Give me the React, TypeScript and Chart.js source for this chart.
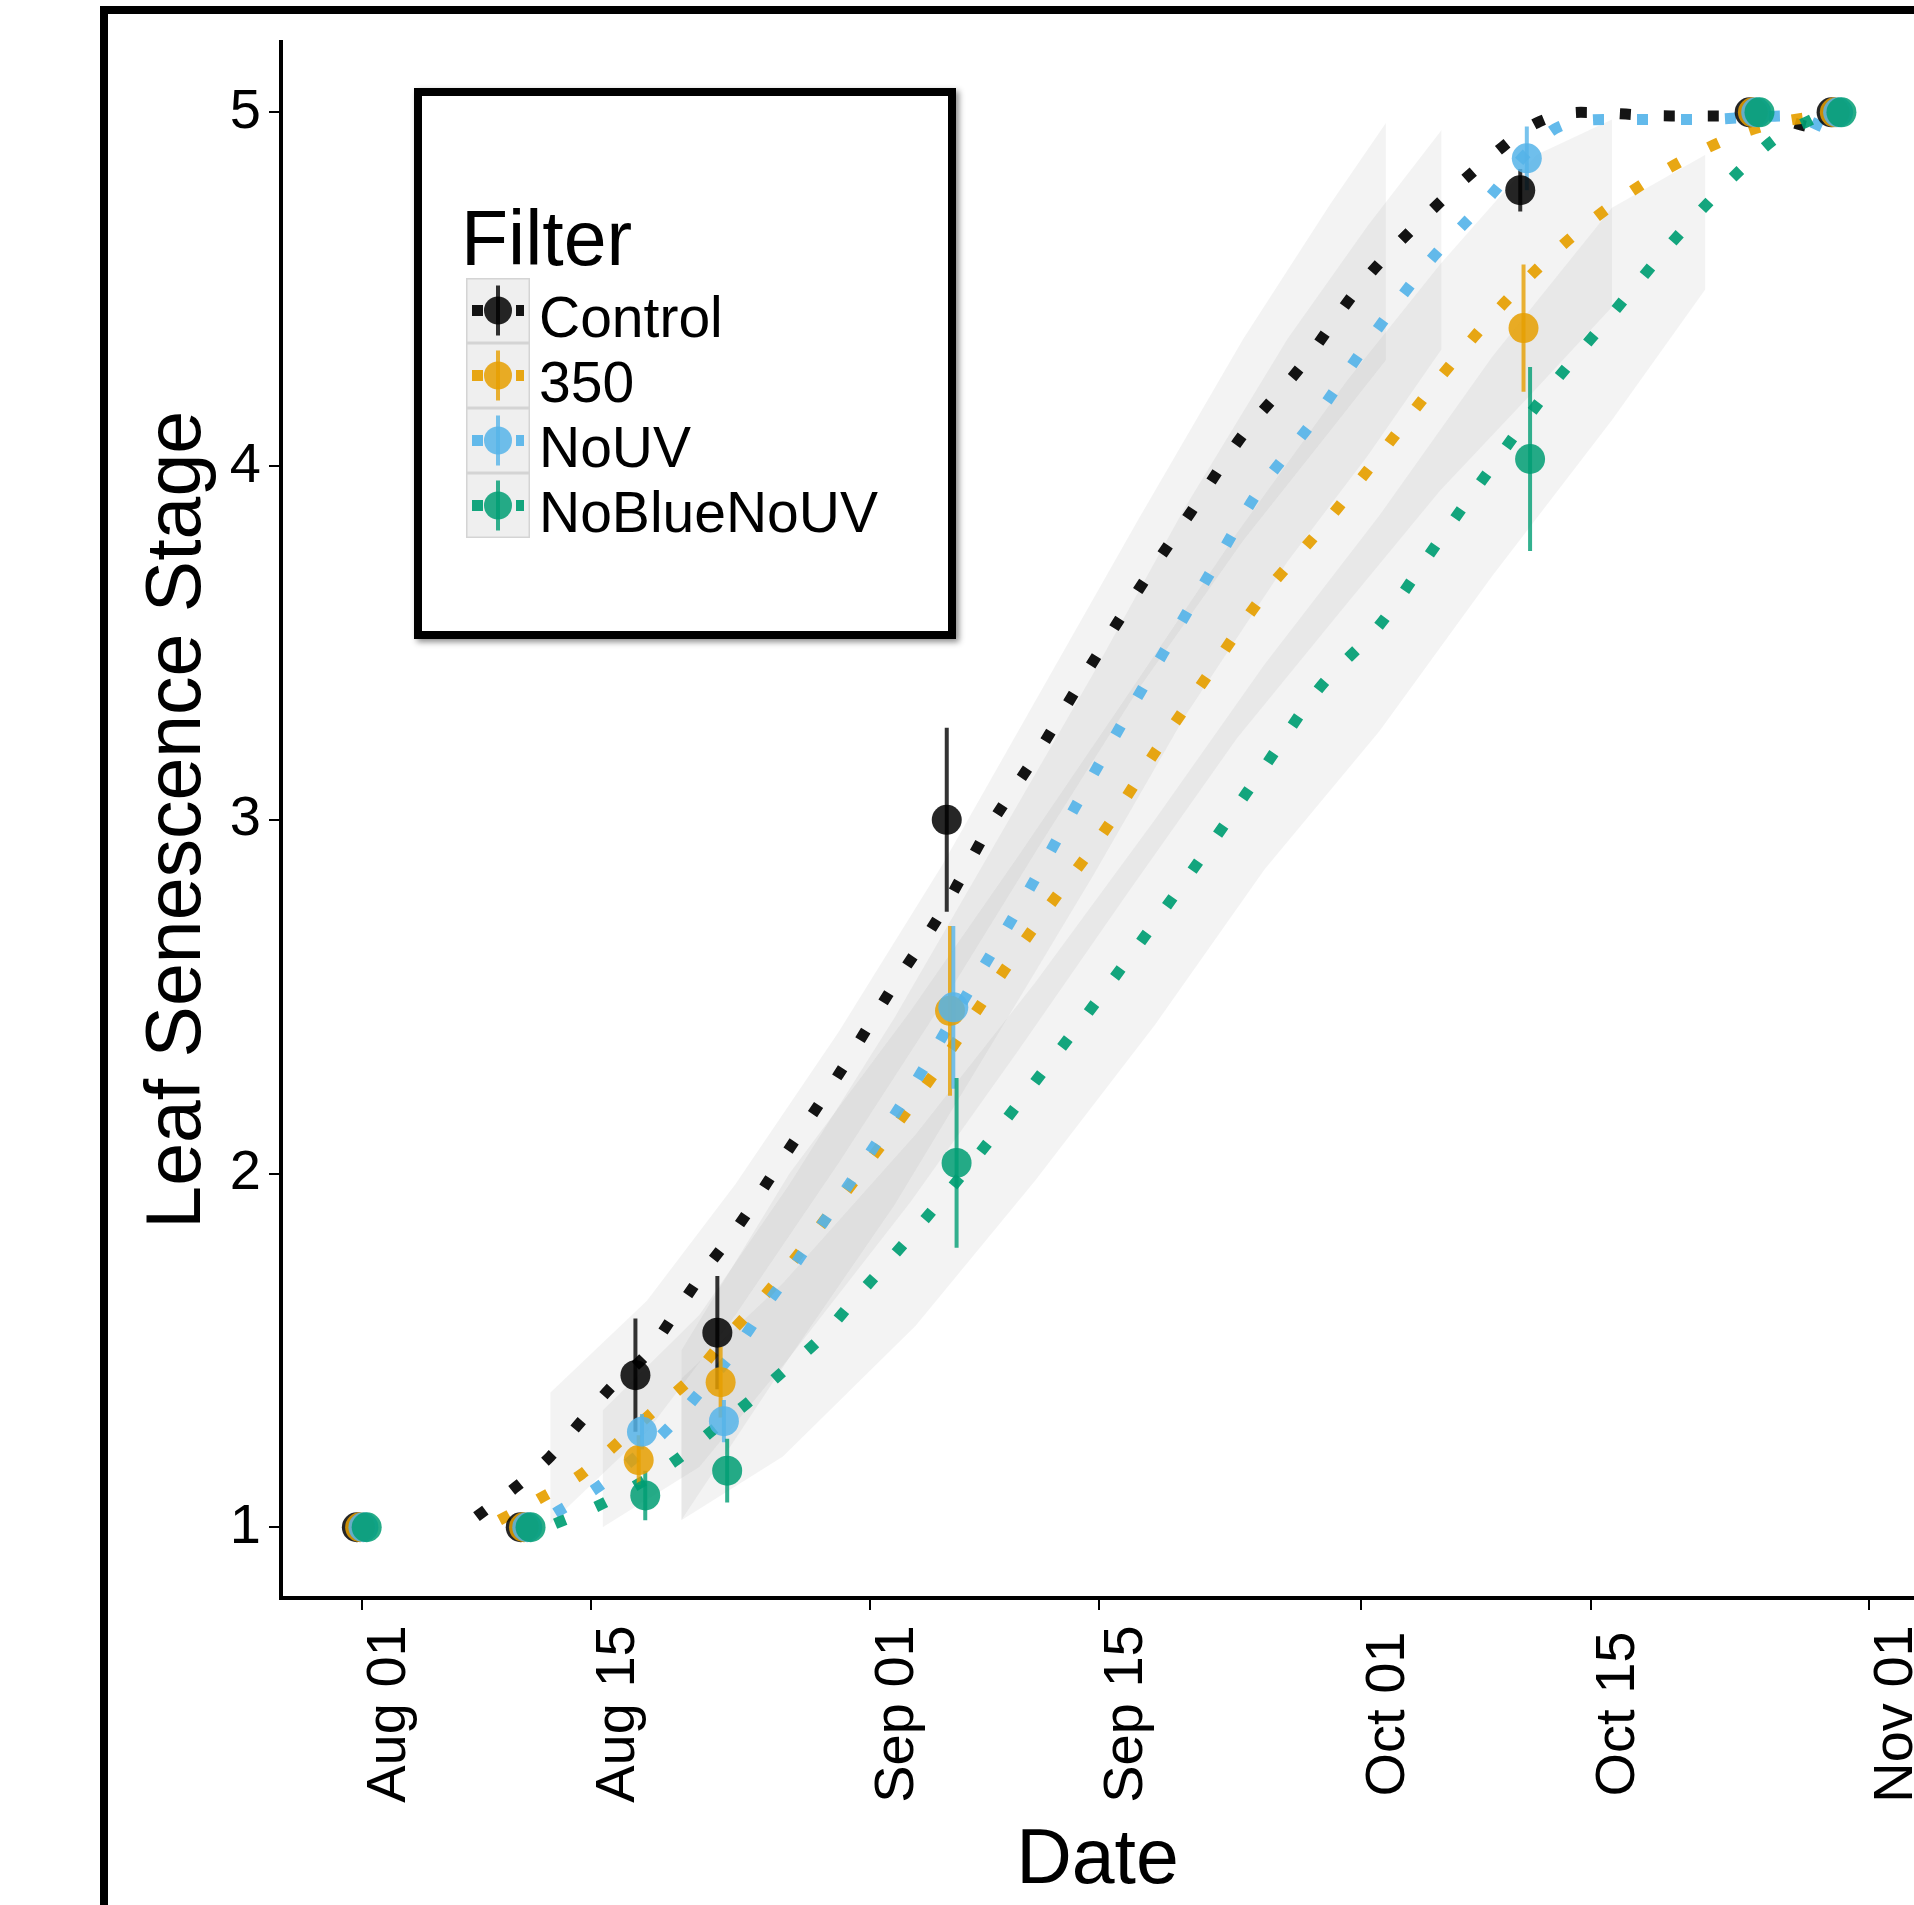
import React, { useEffect, useRef } from "react";
import { Chart, registerables } from "chart.js";

Chart.register(...registerables);

const W = 1914;
const H = 1905;
const FONT = "'Liberation Sans', Arial, Helvetica, sans-serif";

// ---- categories / series ----
const seriesNames = ["Control", "350", "NoUV", "NoBlueNoUV"];
const seriesColors = ["#000000", "#E69F00", "#56B4E9", "#009E73"];

// observation days (days since Aug 01)
const obsDays = [0, 10, 17, 22, 36, 71, 85, 90];
const dodge = [-0.3, -0.1, 0.1, 0.3];

// mean leaf senescence stage per observation
const controlMean = [1, 1, 1.43, 1.55, 3.0, 4.78, 5, 5];
const mean350 = [1, 1, 1.19, 1.41, 2.46, 4.39, 5, 5];
const noUVMean = [1, 1, 1.27, 1.3, 2.47, 4.87, 5, 5];
const noBlueNoUVMean = [1, 1, 1.09, 1.16, 2.03, 4.02, 5, 5];

// error (half-length of error bars)
const controlErr = [0, 0, 0.16, 0.16, 0.26, 0.06, 0, 0];
const err350 = [0, 0, 0.07, 0.1, 0.24, 0.18, 0, 0];
const noUVErr = [0, 0, 0.05, 0.06, 0.23, 0.09, 0, 0];
const noBlueNoUVErr = [0, 0, 0.07, 0.09, 0.24, 0.26, 0, 0];

// smoothed (dotted) curves
const controlCurveDays = [7, 9.3, 11.5, 13.4, 15.3, 17.4, 19.2, 21, 22.8, 25.8, 29.1, 32.3, 35.4, 38.3, 41.4, 44.4, 47.4, 50.6, 53.8, 57.3, 61.1, 65, 69.3, 71.7, 74.4, 79.9, 85.3, 88.2];
const controlCurveVals = [1.03, 1.11, 1.2, 1.3, 1.4, 1.49, 1.61, 1.73, 1.84, 2.05, 2.28, 2.52, 2.74, 2.98, 3.2, 3.43, 3.65, 3.87, 4.09, 4.28, 4.52, 4.71, 4.89, 4.97, 5.0, 4.99, 4.99, 4.96];

const curve350Days = [8.4, 10.8, 13.4, 15.9, 18.1, 20.3, 22.3, 24.3, 26.1, 28.1, 31.7, 35.2, 38.4, 41.7, 45.2, 48.4, 51.5, 55.1, 58.3, 62.1, 65.8, 69.7, 73.9, 78.6, 83.6, 86.3, 88.9];
const curve350Vals = [1.02, 1.08, 1.15, 1.25, 1.34, 1.43, 1.54, 1.64, 1.74, 1.86, 2.08, 2.3, 2.52, 2.74, 2.96, 3.19, 3.4, 3.64, 3.81, 4.03, 4.25, 4.46, 4.65, 4.81, 4.93, 4.97, 4.99];

const noUVCurveDays = [11.8, 14.3, 16.5, 18.7, 20.6, 22.6, 24.4, 26.1, 27.7, 30.9, 34.2, 37.1, 40.2, 43.1, 46, 48.9, 51.8, 54.6, 58.1, 61.4, 65, 69, 71, 73.1, 76.1, 81.6, 87.1, 89.6];
const noUVCurveVals = [1.04, 1.11, 1.19, 1.28, 1.38, 1.49, 1.61, 1.72, 1.83, 2.05, 2.29, 2.52, 2.76, 3.0, 3.24, 3.47, 3.7, 3.92, 4.13, 4.35, 4.57, 4.77, 4.88, 4.96, 4.98, 4.98, 4.99, 4.95];

const noBlueCurveDays = [11.8, 14.4, 16.8, 19.2, 21.3, 23.5, 25.7, 27.9, 30, 33.8, 37.4, 41.1, 44.9, 48.4, 51.8, 55.1, 58.4, 62.1, 65.6, 69, 72.5, 76.3, 80.3, 84.2, 86.4, 88.5];
const noBlueCurveVals = [1.01, 1.06, 1.12, 1.19, 1.27, 1.35, 1.44, 1.53, 1.64, 1.84, 2.04, 2.26, 2.49, 2.71, 2.93, 3.15, 3.37, 3.55, 3.78, 4.0, 4.22, 4.43, 4.65, 4.84, 4.93, 4.98];

// confidence ribbons
const controlRibbonDays = [11.5, 17.4, 22.8, 29.1, 35.4, 41.4, 47.4, 53.8, 59.1, 62.5];
const controlRibbonLo = [1.01, 1.27, 1.6, 2.03, 2.48, 2.93, 3.37, 3.79, 4.1, 4.3];
const controlRibbonHi = [1.38, 1.64, 1.97, 2.4, 2.87, 3.36, 3.85, 4.36, 4.74, 4.97];

const noUVRibbonDays = [14.7, 20.6, 26.1, 32.5, 38.5, 44.6, 50.2, 56.5, 61.4, 65.9];
const noUVRibbonLo = [1.0, 1.17, 1.48, 1.91, 2.37, 2.84, 3.29, 3.73, 4.03, 4.33];
const noUVRibbonHi = [1.33, 1.6, 1.97, 2.44, 2.92, 3.41, 3.88, 4.36, 4.68, 4.95];

const ribbon350Days = [19.5, 26.1, 33.5, 40.1, 46.7, 53.4, 60.1, 65.8, 71.7, 76.3];
const ribbon350Lo = [1.02, 1.48, 1.92, 2.35, 2.79, 3.23, 3.61, 3.93, 4.22, 4.45];
const ribbon350Hi = [1.5, 2.0, 2.46, 2.9, 3.35, 3.81, 4.24, 4.57, 4.88, 4.98];

const noBlueRibbonDays = [19.5, 25.7, 33.8, 41.1, 48.4, 55.1, 62.1, 69.0, 76.3, 82.0];
const noBlueRibbonLo = [1.02, 1.2, 1.57, 1.98, 2.42, 2.86, 3.25, 3.69, 4.13, 4.5];
const noBlueRibbonHi = [1.42, 1.69, 2.11, 2.54, 3.0, 3.44, 3.86, 4.31, 4.73, 4.88];

// axes
const xTickDays = [0, 14, 31, 45, 61, 75, 92];
const xTickLabels = ["Aug 01", "Aug 15", "Sep 01", "Sep 15", "Oct 01", "Oct 15", "Nov 01"];
const yTicks = [1, 2, 3, 4, 5];
const xTitle = "Date";
const yTitle = "Leaf Senescence Stage";
const legendTitle = "Filter";

function rgba(hex: string, a: number) {
  const n = parseInt(hex.slice(1), 16);
  return `rgba(${(n >> 16) & 255},${(n >> 8) & 255},${n & 255},${a})`;
}

const means = [controlMean, mean350, noUVMean, noBlueNoUVMean];
const errs = [controlErr, err350, noUVErr, noBlueNoUVErr];
const curves = [
  [controlCurveDays, controlCurveVals],
  [curve350Days, curve350Vals],
  [noUVCurveDays, noUVCurveVals],
  [noBlueCurveDays, noBlueCurveVals],
];
const ribbons = [
  [controlRibbonDays, controlRibbonLo, controlRibbonHi],
  [ribbon350Days, ribbon350Lo, ribbon350Hi],
  [noUVRibbonDays, noUVRibbonLo, noUVRibbonHi],
  [noBlueRibbonDays, noBlueRibbonLo, noBlueRibbonHi],
];

function buildDatasets() {
  const ds: any[] = [];
  ribbons.forEach(([days, lo, hi], i) => {
    ds.push({
      label: seriesNames[i] + " hi",
      data: days.map((d, k) => ({ x: d, y: hi[k] })),
      borderWidth: 0,
      pointRadius: 0,
      fill: "+1",
      backgroundColor: "rgba(140,140,140,0.105)",
      order: 100,
    });
    ds.push({
      label: seriesNames[i] + " lo",
      data: days.map((d, k) => ({ x: d, y: lo[k] })),
      borderWidth: 0,
      pointRadius: 0,
      fill: false,
      order: 100,
    });
  });
  curves.forEach(([days, vals], i) => {
    ds.push({
      label: seriesNames[i] + " curve",
      data: days.map((d, k) => ({ x: d, y: vals[k] })),
      borderColor: rgba(seriesColors[i], 0.92),
      borderWidth: 11,
      borderDash: [11, 33],
      borderCapStyle: "butt",
      pointRadius: 0,
      fill: false,
      cubicInterpolationMode: "monotone",
      order: 60 - i,
    });
  });
  errs.forEach((e, i) => {
    const pts: any[] = [];
    obsDays.forEach((d, k) => {
      if (e[k] > 0) {
        const x = d + dodge[i];
        pts.push({ x, y: means[i][k] - e[k] }, { x, y: means[i][k] + e[k] }, { x, y: null });
      }
    });
    ds.push({
      label: seriesNames[i] + " err",
      data: pts,
      borderColor: rgba(seriesColors[i], 0.8),
      borderWidth: 4,
      borderCapStyle: "butt",
      pointRadius: 0,
      spanGaps: false,
      fill: false,
      order: 30 - i,
    });
  });
  means.forEach((m, i) => {
    ds.push({
      label: seriesNames[i],
      data: obsDays.map((d, k) => ({ x: d + dodge[i], y: m[k] })),
      showLine: false,
      pointRadius: 15,
      pointBorderWidth: 0,
      pointBackgroundColor: rgba(seriesColors[i], 0.85),
      pointBorderColor: "rgba(0,0,0,0)",
      fill: false,
      order: 10 - i,
    });
  });
  return ds;
}

const decorPlugin = {
  id: "decor",
  afterDraw(chart: any) {
    const ctx = chart.ctx as CanvasRenderingContext2D;
    const xs = chart.scales.x;
    ctx.save();
    // outer frame
    ctx.fillStyle = "#000";
    ctx.fillRect(100, 6, W - 100, 8);
    ctx.fillRect(100, 6, 8, H - 6);

    // x tick labels (rotated)
    ctx.font = `56px ${FONT}`;
    ctx.fillStyle = "#000";
    ctx.textAlign = "center";
    ctx.textBaseline = "alphabetic";
    xTickDays.forEach((d, i) => {
      const px = xs.getPixelForValue(d);
      ctx.save();
      ctx.translate(px + 43, 1714);
      ctx.rotate(-Math.PI / 2);
      ctx.fillText(xTickLabels[i], 0, 0);
      ctx.restore();
    });

    // axis titles
    ctx.font = `77px ${FONT}`;
    ctx.textAlign = "center";
    ctx.fillText(xTitle, (chart.chartArea.left + chart.chartArea.right) / 2, 1883);
    ctx.save();
    ctx.translate(200, (chart.chartArea.top + chart.chartArea.bottom) / 2);
    ctx.rotate(-Math.PI / 2);
    ctx.fillText(yTitle, 0, 0);
    ctx.restore();

    // legend box
    const bx = 414, by = 88, bw = 542, bh = 551;
    ctx.save();
    ctx.shadowColor = "rgba(0,0,0,0.45)";
    ctx.shadowBlur = 6;
    ctx.shadowOffsetX = 3;
    ctx.shadowOffsetY = 3;
    ctx.fillStyle = "#000";
    ctx.fillRect(bx, by, bw, bh);
    ctx.restore();
    ctx.fillStyle = "#fff";
    ctx.fillRect(bx + 8, by + 8, bw - 16, bh - 16);

    ctx.fillStyle = "#000";
    ctx.textAlign = "left";
    ctx.font = `77px ${FONT}`;
    ctx.fillText(legendTitle, 461, 265);

    const kx = 466, kw = 64, ky = 278, kh = 65;
    seriesNames.forEach((name, i) => {
      const top = ky + i * kh;
      const cy = top + kh / 2;
      const cx = kx + kw / 2;
      ctx.fillStyle = "#efefef";
      ctx.fillRect(kx, top, kw, kh);
      ctx.strokeStyle = "#d4d4d4";
      ctx.lineWidth = 1.5;
      ctx.strokeRect(kx + 0.75, top + 0.75, kw - 1.5, kh - 1.5);
      // dotted line
      ctx.save();
      ctx.strokeStyle = rgba(seriesColors[i], 0.92);
      ctx.lineWidth = 11;
      ctx.lineCap = "butt";
      ctx.setLineDash([11, 33]);
      ctx.beginPath();
      ctx.moveTo(kx + 6, cy);
      ctx.lineTo(kx + kw - 6, cy);
      ctx.stroke();
      ctx.restore();
      // error bar
      ctx.strokeStyle = rgba(seriesColors[i], 0.8);
      ctx.lineWidth = 4;
      ctx.beginPath();
      ctx.moveTo(cx, cy - 25);
      ctx.lineTo(cx, cy + 25);
      ctx.stroke();
      // point
      ctx.fillStyle = rgba(seriesColors[i], 0.85);
      ctx.beginPath();
      ctx.arc(cx, cy, 14, 0, Math.PI * 2);
      ctx.fill();
      // label
      ctx.fillStyle = "#000";
      ctx.font = `57px ${FONT}`;
      ctx.textAlign = "left";
      ctx.fillText(name, 539, cy + 26);
    });
    ctx.restore();
  },
};

export default function App() {
  const ref = useRef<HTMLCanvasElement | null>(null);
  useEffect(() => {
    if (!ref.current) return;
    const axisGrid = {
      display: true,
      drawOnChartArea: false,
      drawTicks: true,
      tickLength: 12,
      tickWidth: 2,
      tickColor: "#000",
      lineWidth: 2,
      color: "#000",
    };
    const chart = new Chart(ref.current, {
      type: "line",
      data: { datasets: buildDatasets() },
      options: {
        responsive: false,
        animation: false,
        devicePixelRatio: 1,
        events: [],
        layout: { autoPadding: false, padding: { top: 35, left: 0, right: 0, bottom: 0 } },
        plugins: {
          legend: { display: false },
          tooltip: { enabled: false },
          title: { display: false },
        },
        scales: {
          x: {
            type: "linear",
            min: -4.93,
            max: 94.73,
            afterBuildTicks: (s: any) => {
              s.ticks = xTickDays.map((v) => ({ value: v }));
            },
            afterFit: (s: any) => {
              s.height = H - 1598;
            },
            ticks: { display: false },
            grid: axisGrid,
            border: { display: true, color: "#000", width: 4 },
          },
          y: {
            type: "linear",
            min: 0.8,
            max: 5.2,
            afterBuildTicks: (s: any) => {
              s.ticks = yTicks.map((v) => ({ value: v }));
            },
            afterFit: (s: any) => {
              s.width = 281;
            },
            ticks: {
              display: true,
              color: "#000",
              padding: 8,
              font: { family: FONT, size: 56 },
              callback: (v: any) => String(v),
            },
            grid: axisGrid,
            border: { display: true, color: "#000", width: 4 },
          },
        },
      } as any,
      plugins: [decorPlugin],
    });
    return () => chart.destroy();
  }, []);
  return (
    <div
      style={{
        position: "fixed",
        left: 0,
        top: 0,
        width: W,
        height: H,
        overflow: "hidden",
        background: "#fff",
      }}
    >
      <canvas ref={ref} width={W} height={H} style={{ display: "block", width: W, height: H }} />
    </div>
  );
}
